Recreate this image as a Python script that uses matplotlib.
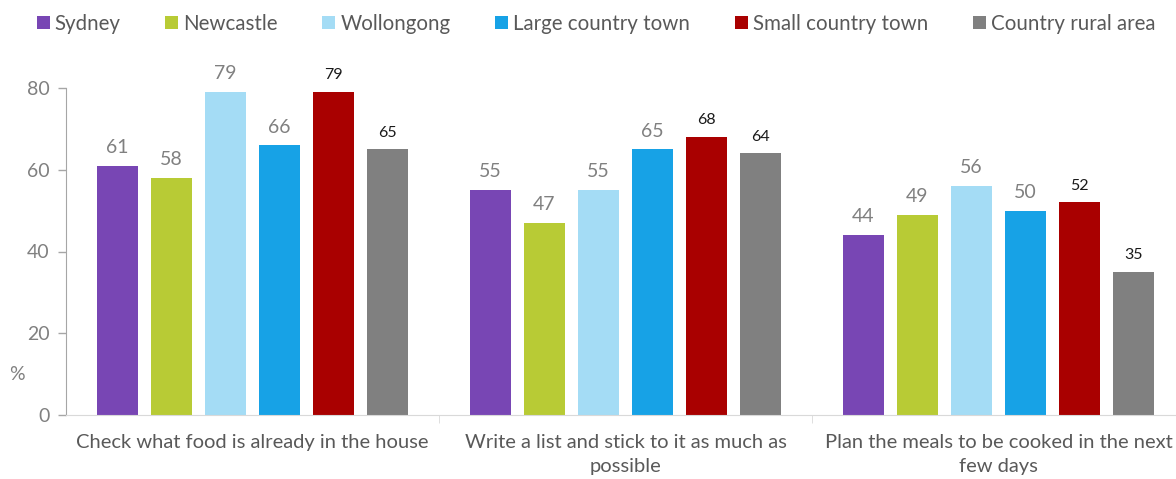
import matplotlib.pyplot as plt
import numpy as np

plt.rcParams['font.family'] = ['Lato', 'DejaVu Sans']

categories = ['Check what food is already in the house',
              'Write a list and stick to it as much as\npossible',
              'Plan the meals to be cooked in the next\nfew days']
series = ['Sydney', 'Newcastle', 'Wollongong', 'Large country town',
          'Small country town', 'Country rural area']
sydney = [61, 55, 44]
newcastle = [58, 47, 49]
wollongong = [79, 55, 56]
large_town = [66, 65, 50]
small_town = [79, 68, 52]
rural = [65, 64, 35]

values = [sydney, newcastle, wollongong, large_town, small_town, rural]
colors = ['#7846b4', '#b8cb35', '#a4dcf5', '#17a2e6', '#a90000', '#808080']

fig = plt.figure(figsize=(11.76, 4.79), dpi=100)
ax = fig.add_axes([66 / 1176, 64 / 479, 1119 / 1176, 327 / 479])

x = np.arange(len(categories))
step = 0.1448
width = 0.11
for i, (name, vals, c) in enumerate(zip(series, values, colors)):
    pos = x + (i - 2.5) * step
    ax.bar(pos, vals, width=width, color=c, label=name)
    for p, v in zip(pos, vals):
        if i < 4:
            ax.annotate(str(v), (p, v), xytext=(0, 7), textcoords='offset points',
                        ha='center', va='bottom', fontsize=14, color='#808080')
        else:
            ax.annotate(str(v), (p, v), xytext=(0, 7), textcoords='offset points',
                        ha='center', va='bottom', fontsize=11.5, color='#1a1a1a')

ax.set_xlim(-0.5, 2.5)
ax.set_ylim(0, 80)
ax.set_yticks([0, 20, 40, 60, 80])
ax.tick_params(axis='y', labelsize=14, labelcolor='#808080', color='#a6a6a6',
               length=6, width=1, pad=6)
ax.set_xticks(x)
ax.set_xticklabels(categories, fontsize=14.5, color='#595959', linespacing=1.45)
ax.tick_params(axis='x', length=0, pad=14)
ax.set_xticks([0.5, 1.5], minor=True)
ax.tick_params(axis='x', which='minor', length=6, color='#d9d9d9')

for s in ['top', 'right']:
    ax.spines[s].set_visible(False)
ax.spines['left'].set_color('#a6a6a6')
ax.spines['bottom'].set_color('#d9d9d9')

ax.text(-0.044, 9.8, '%', transform=ax.get_yaxis_transform(), ha='center',
        va='center', fontsize=14, color='#808080')

fig.legend(loc='center', bbox_to_anchor=(596 / 1176, 1 - 24 / 479), ncol=6,
           frameon=False, fontsize=14.8, labelcolor='#595959', handlelength=0.63,
           handleheight=0.63, handletextpad=0.25, columnspacing=2.17)

fig.savefig('out.png', dpi=100)
